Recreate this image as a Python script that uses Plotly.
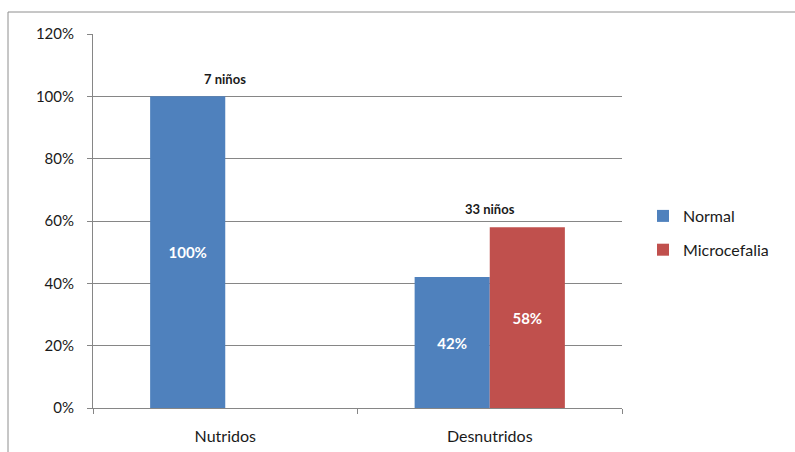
import plotly.graph_objects as go

# Datos
categorias = ["Nutridos", "Desnutridos"]
normal = [100, 42]
microcefalia = [None, 58]
totales = ["7 niños", "33 niños"]
ticks_y = [0, 20, 40, 60, 80, 100, 120]

W, H = 795, 452
ml, mr, mt, mb = 93, 173, 34, 44
pw, ph = W - ml - mr, H - mt - mb

fig = go.Figure()
fig.add_trace(go.Bar(
    name="Normal", x=categorias, y=normal, legendgroup="n",
    marker=dict(color="#4F81BD", line=dict(width=0)),
    text=[f"{v}%" if v else "" for v in normal],
    textposition="inside", insidetextanchor="middle",
    textfont=dict(color="white", size=15, family="Lato", weight="bold"),
))
fig.add_trace(go.Bar(
    name="Microcefalia", x=categorias, y=microcefalia, legendgroup="m",
    marker=dict(color="#C0504D", line=dict(width=0)),
    text=[f"{v}%" if v else "" for v in microcefalia],
    textposition="inside", insidetextanchor="middle",
    textfont=dict(color="white", size=15, family="Lato", weight="bold"),
))

# Totales sobre cada grupo
tops = [max(v for v in (a, b) if v is not None) for a, b in zip(normal, microcefalia)]
for cat, top, txt in zip(categorias, tops, totales):
    fig.add_annotation(x=cat, y=top + 2.5, text=txt, showarrow=False,
                       yanchor="bottom", xanchor="center",
                       font=dict(size=13, color="#1a1a1a", family="Lato",
                                 weight="bold"))

# Marco exterior
def px_x(p):
    return (p - ml) / pw

def px_y(p):
    return (H - mb - p) / ph

fig.add_shape(type="rect", xref="paper", yref="paper",
              x0=px_x(8), x1=px_x(800), y0=px_y(460), y1=px_y(12),
              line=dict(color="#8E8E8E", width=1), fillcolor="rgba(0,0,0,0)",
              layer="below")

fig.update_layout(
    width=W, height=H,
    margin=dict(l=ml, r=mr, t=mt, b=mb),
    plot_bgcolor="white", paper_bgcolor="white",
    barmode="group", bargap=0.432, bargroupgap=0,
    font=dict(family="Lato", color="#262626"),
    showlegend=True,
    legend=dict(x=px_x(643), y=px_y(199), xanchor="left", yanchor="top",
                font=dict(size=16, color="#1a1a1a"),
                itemwidth=30, tracegroupgap=10, bgcolor="rgba(0,0,0,0)"),
    xaxis=dict(
        type="category", tickson="boundaries", automargin=False,
        showgrid=False, showline=True, linecolor="#868686", linewidth=1,
        ticks="outside", ticklen=5, tickcolor="#868686",
        tickfont=dict(size=16, color="#1a1a1a"), ticklabelstandoff=14,
    ),
    yaxis=dict(
        range=[0, 120], tickvals=ticks_y, ticktext=[f"{t}%" for t in ticks_y],
        automargin=False,
        showgrid=True, gridcolor="#868686", gridwidth=1,
        showline=True, linecolor="#868686", linewidth=1,
        ticks="outside", ticklen=5, tickcolor="#868686",
        tickfont=dict(size=15, color="#1a1a1a"), zeroline=False,
        ticklabelstandoff=10,
    ),
)

fig.write_html("out.html")
